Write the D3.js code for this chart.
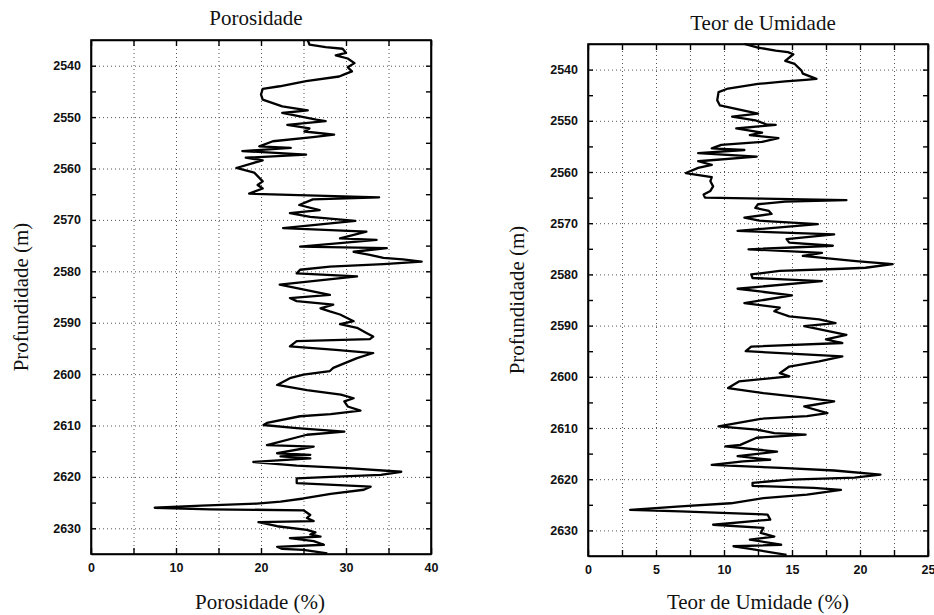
<!DOCTYPE html>
<html>
<head>
<meta charset="utf-8">
<script src="https://cdn.jsdelivr.net/npm/d3@7"></script>
<style>
  body { margin: 0; background: #fff; }
  svg { display: block; }
  .tick text { font-family: "Liberation Sans", Arial, sans-serif; font-size: 12.5px; font-weight: bold; fill: #111; }
  .title { font-family: "Liberation Serif", "Times New Roman", serif; font-size: 21px; fill: #111; }
  .grid line { stroke: #555; stroke-width: 1; stroke-dasharray: 1,3; }
  .grid .domain { display: none; }
</style>
</head>
<body>
<svg width="934" height="615"></svg>
<script>
// porosity log (depth m, %)
const porDepth = [2535.0,2535.9,2536.4,2536.7,2537.5,2538.0,2538.6,2539.5,2540.3,2541.1,2541.7,2542.1,2543.0,2544.0,2544.5,2545.6,2546.6,2547.9,2548.7,2549.2,
  2550.5,2550.8,2551.5,2552.2,2552.8,2553.4,2553.9,2554.7,2555.7,2556.0,2556.6,2557.3,2557.9,2558.4,2559.9,2560.8,2562.5,2563.2,2563.9,2564.9,
  2565.6,2566.0,2567.1,2568.1,2568.7,2569.4,2570.2,2571.6,2572.3,2573.6,2573.9,2575.2,2575.5,2576.2,2576.8,2577.4,2577.7,2578.1,2578.6,2579.1,
  2579.7,2580.4,2581.0,2582.6,2584.6,2585.2,2585.8,2586.5,2587.2,2587.8,2588.4,2589.7,2590.3,2591.0,2592.0,2592.7,2593.2,2593.6,2594.6,2595.3,
  2595.9,2596.9,2598.8,2599.4,2600.1,2600.8,2602.1,2603.1,2604.0,2604.7,2605.3,2606.3,2607.1,2607.8,2608.2,2609.5,2609.9,2610.5,2611.2,2611.8,
  2613.8,2614.1,2615.4,2615.7,2616.0,2616.4,2617.1,2617.8,2618.3,2619.0,2619.6,2620.0,2620.3,2621.2,2621.9,2622.5,2623.3,2624.2,2624.8,2625.2,
  2625.6,2626.0,2626.3,2626.5,2627.4,2628.0,2628.6,2628.8,2629.6,2630.3,2630.8,2631.2,2631.6,2631.9,2632.5,2633.2,2633.6,2634.0,2634.2,2634.9];
const porValues = [25.5,25.7,27.6,29.6,30.0,28.8,30.2,31.0,30.2,30.7,29.8,29.2,25.3,22.2,20.2,20.0,20.2,22.5,25.5,22.5,
  26.5,27.6,23.1,25.7,25.1,28.6,26.1,21.4,19.8,23.5,17.8,25.3,18.2,20.2,17.1,19.2,20.2,19.6,20.2,18.6,
  33.9,26.1,24.5,26.9,23.4,25.8,31.1,22.6,32.4,29.3,33.6,24.6,34.8,30.9,32.8,34.4,36.7,38.9,34.4,28.1,
  24.6,24.2,31.3,22.2,28.1,23.4,24.2,28.5,27.0,28.1,29.3,30.9,29.3,31.3,32.4,33.2,32.8,24.2,23.4,28.8,
  33.2,31.3,28.5,28.1,25.0,23.4,21.9,25.4,29.4,30.9,29.8,30.2,31.7,28.2,24.6,20.7,20.3,24.2,29.8,25.4,
  20.7,26.2,21.9,25.8,22.3,25.8,19.1,24.2,30.2,36.5,34.1,28.2,24.2,24.2,32.9,32.1,28.2,25.0,22.3,19.5,
  13.0,7.5,14.0,25.0,25.8,25.4,26.2,19.7,21.9,25.4,26.4,25.8,27.0,23.4,26.2,27.4,21.9,22.5,25.0,27.8];

// moisture content log (depth m, %)
const umiDepth = [2535.0,2535.7,2536.3,2536.6,2537.0,2538.3,2538.9,2540.2,2540.8,2541.8,2542.0,2542.3,2542.8,2543.7,2544.4,2546.0,2547.0,2547.6,2548.6,2549.2,
  2549.9,2550.7,2550.8,2551.5,2552.3,2552.8,2553.4,2554.1,2554.7,2555.4,2555.7,2556.3,2557.0,2557.9,2558.6,2559.2,2560.2,2560.5,2561.0,2561.8,
  2562.8,2563.7,2564.4,2565.0,2565.5,2565.8,2566.3,2567.0,2567.6,2568.2,2568.9,2569.5,2570.2,2571.5,2572.2,2573.1,2573.8,2574.4,2575.1,2575.8,
  2576.4,2577.4,2578.0,2578.7,2578.9,2579.3,2580.0,2580.7,2581.3,2582.8,2584.1,2585.6,2586.5,2587.2,2588.2,2588.8,2589.5,2590.1,2591.8,2592.7,
  2593.4,2594.1,2595.0,2596.0,2597.0,2598.0,2599.3,2599.9,2600.9,2602.2,2603.2,2604.1,2604.8,2605.8,2607.1,2607.7,2608.2,2609.7,2610.3,2611.0,
  2611.3,2611.9,2613.3,2613.6,2614.6,2615.5,2616.2,2616.5,2617.2,2617.8,2618.3,2619.1,2619.7,2620.1,2620.7,2621.3,2621.7,2622.1,2623.0,2623.7,
  2624.7,2625.3,2626.0,2626.3,2626.9,2627.9,2628.9,2629.5,2630.5,2631.2,2631.8,2632.8,2633.1,2633.5,2634.8];
const umiValues = [11.5,12.5,13.8,14.7,15.1,14.5,15.2,15.7,15.8,16.8,16.0,14.5,12.5,10.3,9.6,9.5,9.7,10.8,12.5,10.6,
  12.3,13.1,13.8,10.9,12.8,11.9,14.0,12.8,9.8,9.1,11.5,8.1,12.4,8.1,9.1,8.1,7.2,7.9,9.1,9.0,
  9.2,9.0,8.5,8.6,19.0,14.5,12.5,12.3,13.3,13.5,11.5,12.6,16.9,11.0,18.1,14.6,14.8,18.0,11.8,17.2,
  15.8,19.7,22.4,20.4,18.7,14.1,12.0,12.1,17.2,11.0,15.0,11.5,14.1,13.7,14.8,17.0,18.2,15.9,19.0,17.5,
  18.7,12.0,11.6,18.7,17.0,14.8,14.1,14.8,11.1,10.3,12.9,16.1,18.1,15.9,17.6,16.1,12.7,9.6,12.4,13.7,
  16.0,12.4,11.2,10.1,13.9,11.0,13.4,11.4,9.1,14.2,18.1,21.5,19.6,14.9,12.1,12.1,16.6,18.6,16.1,12.9,
  10.5,6.8,3.1,6.8,13.2,13.4,9.2,12.9,12.7,13.7,11.9,14.2,10.7,11.7,14.6];

// ticks
const depthLabels = [2540, 2550, 2560, 2570, 2580, 2590, 2600, 2610, 2620, 2630];
const depthTicks = d3.range(2540, 2635, 5);
const porTicks = [0, 5, 10, 15, 20, 25, 30, 35, 40];
const porLabels = [0, 10, 20, 30, 40];
const umiTicks = [0, 2.5, 5, 7.5, 10, 12.5, 15, 17.5, 20, 22.5, 25];
const umiLabels = [0, 5, 10, 15, 20, 25];

const svg = d3.select("svg");

const panels = [
  { depth: porDepth, values: porValues, xMax: 40, xTicks: porTicks, xLabels: porLabels,
    left: 91, right: 431, top: 40, bottom: 554,
    title: "Porosidade", titleX: 256, titleY: 25,
    xTitle: "Porosidade (%)", xTitleX: 260, yTitleX: 28 },
  { depth: umiDepth, values: umiValues, xMax: 25, xTicks: umiTicks, xLabels: umiLabels,
    left: 588, right: 928, top: 44, bottom: 556,
    title: "Teor de Umidade", titleX: 763, titleY: 30,
    xTitle: "Teor de Umidade (%)", xTitleX: 758, yTitleX: 524 }
];

panels.forEach(p => {
  const x = d3.scaleLinear().domain([0, p.xMax]).range([p.left, p.right]);
  const y = d3.scaleLinear().domain([2535, 2635]).range([p.top, p.bottom]);
  const w = p.right - p.left, h = p.bottom - p.top;
  const g = svg.append("g");

  // dotted grid
  g.append("g").attr("class", "grid")
    .attr("transform", `translate(${p.left},0)`)
    .call(d3.axisLeft(y).tickValues(depthLabels).tickSize(-w).tickFormat(""));
  g.append("g").attr("class", "grid")
    .attr("transform", `translate(0,${p.bottom})`)
    .call(d3.axisBottom(x).tickValues(p.xTicks.slice(1, -1)).tickSize(h).tickFormat(""))
    .selectAll("line").attr("y2", -h);

  // curve
  const line = d3.line()
    .x(d => x(d[1]))
    .y(d => y(d[0]));
  g.append("path")
    .datum(d3.zip(p.depth, p.values))
    .attr("fill", "none")
    .attr("stroke", "#000")
    .attr("stroke-width", 2.3)
    .attr("stroke-linejoin", "round")
    .attr("d", line);

  // axes with inward ticks
  g.append("g")
    .attr("transform", `translate(${p.left},0)`)
    .call(d3.axisLeft(y).tickValues(depthTicks).tickSizeInner(-5).tickSizeOuter(0).tickPadding(10)
      .tickFormat(d => depthLabels.includes(d) ? d : ""));
  g.append("g")
    .attr("transform", `translate(${p.right},0)`)
    .call(d3.axisRight(y).tickValues(depthTicks).tickSizeInner(-5).tickSizeOuter(0).tickFormat(""));
  g.append("g")
    .attr("transform", `translate(0,${p.top})`)
    .call(d3.axisTop(x).tickValues(p.xTicks).tickSizeInner(-6).tickSizeOuter(0).tickFormat(""));
  g.append("g")
    .attr("transform", `translate(0,${p.bottom})`)
    .call(d3.axisBottom(x).tickValues(p.xTicks).tickSizeInner(-6).tickSizeOuter(0).tickPadding(9)
      .tickFormat(d => p.xLabels.includes(d) ? d : ""));

  g.selectAll(".domain").filter(function () { return !this.parentNode.classList.contains("grid"); })
    .attr("stroke", "#000").attr("stroke-width", 1.6);
  g.selectAll(".tick line").filter(function () { return !this.parentNode.parentNode.classList.contains("grid"); })
    .attr("stroke", "#000").attr("stroke-width", 1.4);

  g.append("rect")
    .attr("x", p.left).attr("y", p.top)
    .attr("width", w).attr("height", h)
    .attr("fill", "none").attr("stroke", "#000").attr("stroke-width", 1.6);

  // titles
  g.append("text").attr("class", "title")
    .attr("x", p.titleX).attr("y", p.titleY)
    .attr("text-anchor", "middle").text(p.title);
  g.append("text").attr("class", "title")
    .attr("x", p.xTitleX).attr("y", 609)
    .attr("text-anchor", "middle").text(p.xTitle);
  g.append("text").attr("class", "title")
    .attr("transform", `translate(${p.yTitleX},${(p.top + p.bottom) / 2}) rotate(-90)`)
    .attr("text-anchor", "middle").text("Profundidade (m)");
});
</script>
</body>
</html>
